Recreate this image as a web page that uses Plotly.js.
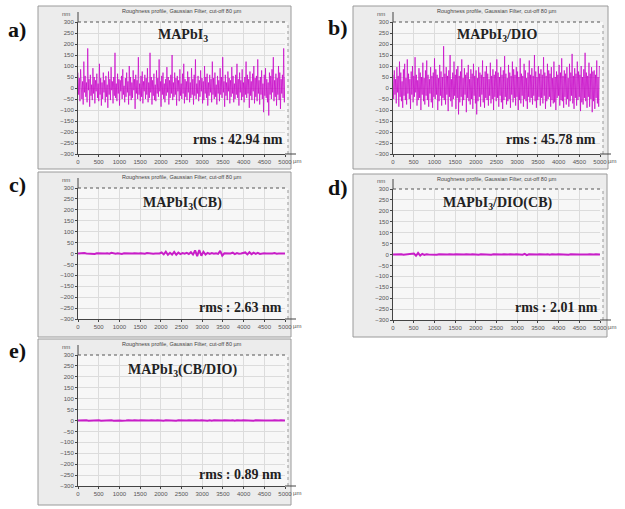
<!DOCTYPE html>
<html><head><meta charset="utf-8">
<script src="https://cdn.plot.ly/plotly-3.0.1.min.js"></script>
<style>html,body{margin:0;padding:0;background:#fff}#g{width:625px;height:509px}</style>
</head><body><div id="g"></div>
<script>
// ---- data (nm), sampled evenly over 0..5000 µm ----
const profileA = [
 70,-30,45,-60,85,10,-50,30,-75,120,
 -20,55,-40,25,-65,180,-10,40,-85,60,
 -35,15,-55,90,-25,50,-70,35,-15,65,
 -45,20,-60,110,-30,45,-80,25,-50,70,
 -20,35,-65,55,-40,15,-90,75,-30,40,
 -55,95,-10,30,-70,50,-35,160,-45,20,
 -60,65,-25,40,-80,35,-15,55,-50,85,
 -30,10,-65,45,-40,70,-20,30,-75,100,
 -35,50,-55,25,-45,80,-10,40,-95,60,
 -25,35,-50,140,-30,20,-60,55,-40,75,
 -70,30,-15,60,-50,45,-30,90,-65,25,
 -45,160,-20,50,-75,35,-35,65,-55,15,
 -60,80,-25,45,-40,130,-15,30,-85,55,
 -30,70,-50,20,-65,40,-35,95,-20,50,
 -75,35,-45,60,-25,150,-55,25,-40,70,
 -30,45,-80,55,-15,35,-60,85,-35,20,
 -50,65,-25,110,-70,40,-40,30,-55,75,
 -20,50,-65,25,-45,90,-30,40,-75,60,
 -35,130,-50,20,-25,55,-60,35,-40,80,
 -15,45,-70,30,-55,100,-25,50,-45,65,
 -80,25,-35,60,-20,40,-65,120,-30,45,
 -50,70,-40,15,-75,55,-25,35,-60,90,
 -30,50,-45,140,-20,30,-85,60,-35,25,
 -55,75,-15,45,-70,35,-40,95,-25,55,
 -65,20,-50,60,-30,110,-45,40,-80,70,
 -20,35,-55,85,-40,25,-65,50,-30,120,
 -45,60,-25,40,-90,75,-35,30,-55,65,
 -15,100,-70,45,-40,55,-60,130,-25,35,
 -75,50,-30,80,-50,20,-110,60,-35,90,
 -45,40,-65,25,-125,70,-30,55,-50,85,
 -20,140,-60,35,-40,65,-80,45,-30,100,
 -55,70,-95,40,-25,60,-45,180,-65,50];
const profileB = [
 60,-50,80,-30,40,-70,95,-20,55,-85,
 120,-40,70,-60,30,-90,85,-35,110,-55,
 45,-75,130,-25,65,-50,40,-95,75,-30,
 100,-65,55,-40,140,-20,60,-80,35,-55,
 90,-45,70,-100,50,-30,115,-60,45,-75,
 80,-35,125,-55,60,-85,40,-25,95,-65,
 55,-90,70,-40,135,-50,85,-30,60,-100,
 45,-60,105,-35,75,-80,50,-45,190,-55,
 65,-75,95,-30,55,-105,80,-40,150,-60,
 40,-85,70,-50,120,-35,60,-95,85,-45,
 100,-120,55,-65,75,-40,130,-80,45,-55,
 90,-30,60,-110,70,-45,105,-60,40,-75,
 85,-50,65,-95,110,-35,55,-70,80,-120,
 45,-60,95,-40,70,-85,60,-30,125,-65,
 50,-90,75,-45,100,-55,65,-80,40,-35,
 115,-70,55,-50,85,-100,60,-40,75,-60,
 130,-45,70,-85,50,-35,95,-65,60,-95,
 80,-55,145,-40,65,-75,45,-60,105,-50,
 70,-90,55,-30,120,-65,85,-45,60,-80,
 95,-40,75,-100,50,-55,135,-70,65,-35,
 55,-85,110,-50,80,-60,45,-95,70,-40,
 125,-65,60,-45,90,-75,55,-35,150,-60,
 75,-90,50,-55,100,-40,65,-80,85,-45,
 60,-70,140,-35,70,-95,55,-60,110,-50,
 80,-40,65,-85,95,-55,45,-70,120,-65,
 50,-100,75,-45,60,-35,105,-80,70,-55,
 135,-60,55,-90,80,-40,65,-75,95,-50,
 45,-85,110,-60,70,-35,155,-70,55,-95,
 90,-45,65,-80,120,-55,75,-40,60,-105,
 100,-65,50,-75,85,-45,160,-60,70,-90,
 55,-40,115,-85,65,-50,95,-110,75,-60,
 80,-95,60,-45,125,-70,50,-85,100,95];
const profileC = [
 0,1,-1,2,0,-1,1,0,-2,1, 0,2,-1,0,1,-1,3,0,-1,1,
 0,-2,1,0,2,-1,0,1,-1,0, 1,0,-1,2,0,1,-1,0,1,0,
 5,-4,8,-6,3,-5,7,-6,4,-3, 2,-1,3,-2,6,-5,14,-12,16,-10,
 8,-5,3,-2,2,-1,1,-2,12,-10, 1,0,-1,0,4,-3,2,-1,0,1,
 5,-4,6,-3,4,-2,3,-2,0,1, 0,-1,1,0,2,-1,0,1,-1,0];
const profileD = [
 0,1,-1,0,1,-1,0,1,-1,0, 4,-6,7,-5,3,-2,1,0,-1,1,
 0,-1,1,0,2,-1,0,1,-1,0, 1,0,-1,1,0,1,-1,0,1,0,
 0,-1,1,0,-1,1,0,-1,1,0, 1,-1,0,1,-1,0,1,-1,0,1,
 0,1,-1,3,-3,1,0,-1,1,0, 1,0,-1,0,1,-1,1,-1,0,1,
 0,-1,1,0,-1,1,0,1,-1,0, 0,-1,1,0,1,-1,0,1,-1,0];
const profileE = [
 0,1,-1,0,1,-1,0,1,-1,0, 1,-1,0,1,-1,0,1,-1,0,1,
 0,-1,1,0,1,-1,0,1,-1,0, 1,0,-1,1,0,1,-1,0,1,0,
 0,-1,1,0,-1,1,0,-1,1,0, 1,-1,0,1,-1,0,1,-1,0,1,
 0,1,-1,1,-1,1,0,-1,1,0, 1,0,-1,0,1,-1,1,-1,0,1,
 0,-1,1,0,-1,1,0,1,-1,0, 0,-1,1,0,1,-1,0,1,-1,0];
const panelLabels = ['a)','b)','c)','d)','e)'];
const sampleNames = ['MAPbI<sub>3</sub>','MAPbI<sub>3</sub>/DIO','MAPbI<sub>3</sub>(CB)','MAPbI<sub>3</sub>/DIO(CB)','MAPbI<sub>3</sub>(CB/DIO)'];
const rmsLabels = ['rms : 42.94 nm','rms : 45.78 nm','rms : 2.63 nm','rms : 2.01 nm','rms : 0.89 nm'];
const headerText = 'Roughness profile, Gaussian Filter, cut-off 80 µm';
const xTicks = [0,500,1000,1500,2000,2500,3000,3500,4000,4500,5000];
const yTicks = [-300,-250,-200,-150,-100,-50,0,50,100,150,200,250,300];
const xRange = [0,5000], yRange = [-300,300];
const profiles = [profileA, profileB, profileC, profileD, profileE];

// ---- geometry (pixels) ----
const W = 625, H = 509;
const px = v => v / W, py = v => 1 - v / H;
const panels = [
 {plot:[78,285,22,154], frame:[38,291,6,169], label:[17,30], title:[183,35], rms:[238,139]},
 {plot:[393,600,22,154], frame:[353,608,6,169], label:[338,28], title:[497,35], rms:[551,140]},
 {plot:[78,285,188,319], frame:[38,291,172,337], label:[17,184], title:[182,203], rms:[240,307]},
 {plot:[393,600,189,320], frame:[353,607,174,337], label:[338,188], title:[497,203], rms:[556,307]},
 {plot:[78,285,355,486], frame:[38,291,339,505], label:[17,350], title:[182,370], rms:[240,474]}
];

const data = [], shapes = [], annotations = [];
const layout = {
  width: W, height: H, margin:{l:0,r:0,t:0,b:0},
  paper_bgcolor:'#ffffff', plot_bgcolor:'rgba(0,0,0,0)', showlegend:false,
  font:{family:'Liberation Sans, Arial', color:'#555'}
};
const serif = 'Liberation Serif, Times New Roman, serif';

panels.forEach((p, i) => {
  const k = i === 0 ? '' : String(i + 1);
  const ys = profiles[i];
  const n = ys.length;
  data.push({
    type:'scatter', mode:'lines',
    x: ys.map((_, j) => j * 5000 / (n - 1)), y: ys,
    xaxis:'x' + k, yaxis:'y' + k,
    line:{color: i < 2 ? 'rgba(200,0,200,0.7)' : '#c81ec8', width: i < 2 ? 1 : 2},
    hoverinfo:'skip'
  });
  const axCommon = {
    showgrid:true, gridcolor:'#dcdcdc', gridwidth:1, zeroline:false,
    showline:true, linecolor:'#444', linewidth:1,
    ticks:'outside', ticklen:2, tickcolor:'#444',
    tickfont:{size:6, color:'#555', family:'Liberation Sans, Arial'},
    fixedrange:true
  };
  layout['xaxis' + k] = Object.assign({}, axCommon, {
    domain:[px(p.plot[0]), px(p.plot[1])], range:xRange,
    tickvals:xTicks, anchor:'y' + k
  });
  layout['yaxis' + k] = Object.assign({}, axCommon, {
    domain:[py(p.plot[3]), py(p.plot[2])], range:yRange,
    tickvals:yTicks, anchor:'x' + k
  });
  shapes.push({type:'rect', xref:'paper', yref:'paper', layer:'below',
    x0:px(p.frame[0]), x1:px(p.frame[1]), y0:py(p.frame[3]), y1:py(p.frame[2]),
    fillcolor:'#ececec', line:{color:'#9a9a9a', width:1}});
  shapes.push({type:'rect', xref:'paper', yref:'paper', layer:'below',
    x0:px(p.plot[0]), x1:px(p.plot[1] + 3), y0:py(p.plot[3]), y1:py(p.plot[2]),
    fillcolor:'#f7f7f7', line:{width:0}});
  shapes.push({type:'line', xref:'paper', yref:'paper',
    x0:px(p.plot[0]), x1:px(p.plot[1] + 3), y0:py(p.plot[2]), y1:py(p.plot[2]),
    line:{color:'#555', width:1, dash:'dot'}});
  shapes.push({type:'line', xref:'paper', yref:'paper',
    x0:px(p.plot[1] + 3), x1:px(p.plot[1] + 3), y0:py(p.plot[3]), y1:py(p.plot[2]),
    line:{color:'#999', width:1, dash:'dot'}});
  shapes.push({type:'line', xref:'paper', yref:'paper',
    x0:px(p.plot[0]), x1:px(p.plot[0]), y0:py(p.plot[2]), y1:py(p.plot[2] - 10),
    line:{color:'#444', width:1}});
  shapes.push({type:'line', xref:'paper', yref:'paper',
    x0:px(p.plot[1]), x1:px(p.plot[1] + 11), y0:py(p.plot[3]), y1:py(p.plot[3]),
    line:{color:'#444', width:1}});
  annotations.push({xref:'paper', yref:'paper', x:px(p.label[0]), y:py(p.label[1]),
    text:panelLabels[i], showarrow:false, xanchor:'center', yanchor:'middle',
    font:{family:serif, size:22, color:'#111', weight:'bold'}});
  annotations.push({xref:'paper', yref:'paper', x:px(p.title[0]), y:py(p.title[1]),
    text:sampleNames[i], showarrow:false, xanchor:'center', yanchor:'middle',
    font:{family:serif, size:14, color:'#222', weight:'bold'}});
  annotations.push({xref:'paper', yref:'paper', x:px(p.rms[0]), y:py(p.rms[1]),
    text:rmsLabels[i], showarrow:false, xanchor:'center', yanchor:'middle',
    font:{family:serif, size:14, color:'#222', weight:'bold'}});
  annotations.push({xref:'paper', yref:'paper', x:px((p.plot[0] + p.plot[1]) / 2), y:py(p.frame[2] + 5),
    text:headerText, showarrow:false, xanchor:'center', yanchor:'middle',
    font:{size:5.5, color:'#444'}});
  annotations.push({xref:'paper', yref:'paper', x:px(p.plot[0] - 6), y:py(p.plot[2] - 8),
    text:'nm', showarrow:false, xanchor:'right', yanchor:'middle',
    font:{size:6, color:'#555'}});
  annotations.push({xref:'paper', yref:'paper', x:px(p.plot[1] + 6), y:py(p.plot[3] + 7),
    text:'µm', showarrow:false, xanchor:'left', yanchor:'middle',
    font:{size:6, color:'#555'}});
});
layout.shapes = shapes;
layout.annotations = annotations;
Plotly.newPlot('g', data, layout, {staticPlot:true, displayModeBar:false});
</script></body></html>
